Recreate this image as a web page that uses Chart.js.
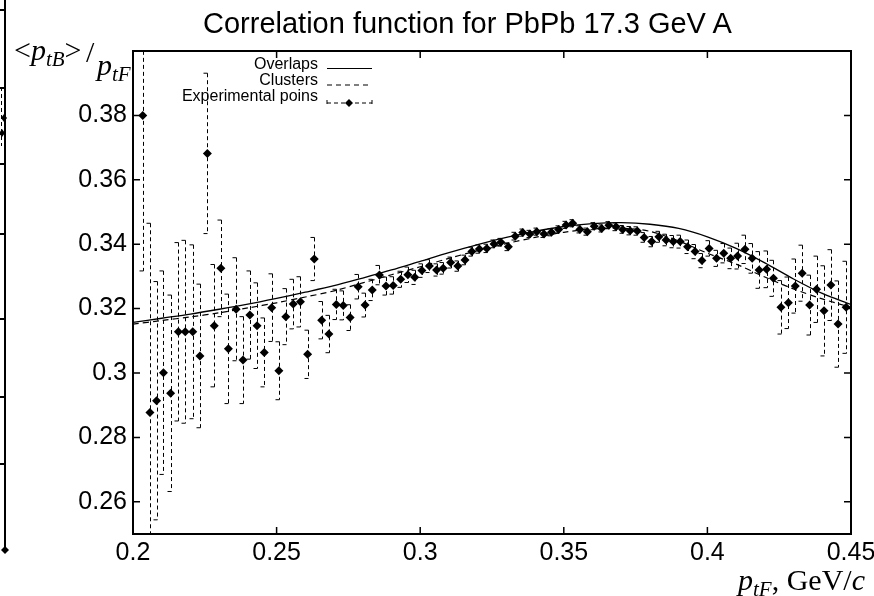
<!DOCTYPE html>
<html>
<head>
<meta charset="utf-8">
<script src="https://cdn.jsdelivr.net/npm/chart.js@4.4.1/dist/chart.umd.min.js"></script>
<style>
  html, body { margin: 0; padding: 0; background: #fff; }
  #wrap { position: relative; width: 874px; height: 596px; overflow: hidden; background: #fff; }
  #chart { position: absolute; left: 0; top: 0; }
  .txt { position: absolute; white-space: nowrap; color: #000; }
  .sans { font-family: 'Liberation Sans', Arial, sans-serif; }
  .serif { font-family: 'Liberation Serif', 'Times New Roman', serif; }
  .leg { font-size: 16px; line-height: 16px; text-align: right; right: 556px; }
  .sb { font-size: 70%; position: relative; top: 0.3em; }
  /* piece of the neighbouring figure cropped at the left edge */
  .frag { position: absolute; background: #000; }
</style>
</head>
<body>
<div id="wrap">
  <canvas id="chart" width="874" height="596"></canvas>

  <div class="txt sans" style="left:203px; top:9px; font-size:29px; line-height:29px;">Correlation function for PbPb 17.3 GeV A</div>

  <!-- y axis label -->
  <div class="txt serif" style="left:14px; top:35px; font-size:30px; line-height:30px;">&lt;<i>p</i><i class="sb">tB</i>&gt;</div>
  <div class="txt serif" style="left:86px; top:37px; font-size:30px; line-height:30px;">/</div>
  <div class="txt serif" style="left:97px; top:50px; font-size:30px; line-height:30px;"><i>p</i><i class="sb">tF</i></div>

  <!-- x axis label -->
  <div class="txt serif" style="left:738px; top:565px; font-size:30px; line-height:30px;"><i>p</i><i class="sb">tF</i>, GeV/<i>c</i></div>

  <!-- legend -->
  <div class="txt sans leg" style="top:56px;">Overlaps</div>
  <div class="txt sans leg" style="top:72px;">Clusters</div>
  <div class="txt sans leg" style="top:88px;">Experimental poins</div>
  <svg class="txt" style="left:320px; top:55px;" width="60" height="56">
    <line x1="7" y1="13.5" x2="52" y2="13.5" stroke="#000" stroke-width="1.2"/>
    <line x1="7" y1="30" x2="52" y2="30" stroke="#000" stroke-width="1.2" stroke-dasharray="5,4"/>
    <line x1="7" y1="48" x2="52" y2="48" stroke="#000" stroke-width="1" stroke-dasharray="4,3"/>
    <line x1="7" y1="45" x2="7" y2="49" stroke="#000" stroke-width="1"/>
    <line x1="52" y1="45" x2="52" y2="49" stroke="#000" stroke-width="1"/>
    <polygon points="29,44 33,48 29,52 25,48" fill="#000"/>
  </svg>

  <!-- cropped neighbour -->
  <div class="frag" style="left:4px; top:0; width:2px; height:551px;"></div>
  <div class="frag" style="left:0; top:9px; width:5px; height:1.5px;"></div>
  <div class="frag" style="left:0; top:87px; width:5px; height:1.5px;"></div>
  <div class="frag" style="left:0; top:163px; width:5px; height:1.5px;"></div>
  <div class="frag" style="left:0; top:233px; width:5px; height:1.5px;"></div>
  <div class="frag" style="left:0; top:318px; width:5px; height:1.5px;"></div>
  <div class="frag" style="left:0; top:396px; width:5px; height:1.5px;"></div>
  <div class="frag" style="left:0; top:463px; width:5px; height:1.5px;"></div>
  <svg class="txt" style="left:0; top:80px;" width="12" height="480">
    <line x1="1.5" y1="7" x2="1.5" y2="66" stroke="#000" stroke-dasharray="4,3"/>
    <polygon points="4,34 7,38 4,42 1,38" fill="#000"/>
    <polygon points="2,49 5,53 2,57 -1,53" fill="#000"/>
    <polygon points="5,466 9,470 5,474 1,470" fill="#000"/>
  </svg>
</div>

<script>
// tick positions
const xTicks = [0.2, 0.25, 0.3, 0.35, 0.4, 0.45];
const yTicks = [0.26, 0.28, 0.3, 0.32, 0.34, 0.36, 0.38];

// model curves, read every 0.01
const curveX = [0.20, 0.21, 0.22, 0.23, 0.24, 0.25, 0.26, 0.27, 0.28, 0.29, 0.30, 0.31, 0.32,
                0.33, 0.34, 0.35, 0.36, 0.37, 0.38, 0.39, 0.40, 0.41, 0.42, 0.43, 0.44, 0.45];
const overlapsY = [0.3157, 0.3170, 0.3183, 0.3198, 0.3214, 0.3232, 0.3251, 0.3271, 0.3295, 0.3320, 0.3347, 0.3374, 0.3399,
                   0.3421, 0.3440, 0.3455, 0.3464, 0.3467, 0.3462, 0.3449, 0.3423, 0.3387, 0.3342, 0.3292, 0.3247, 0.3213];
const clustersY = [0.3152, 0.3163, 0.3174, 0.3187, 0.3202, 0.3218, 0.3236, 0.3255, 0.3280, 0.3305, 0.3330, 0.3356, 0.3380,
                   0.3402, 0.3421, 0.3437, 0.3447, 0.3450, 0.3440, 0.3410, 0.3372, 0.3338, 0.3298, 0.3261, 0.3230, 0.3204];

// experimental points with their errors
const expX = [
  0.2034, 0.2059, 0.2082, 0.2106, 0.2131, 0.2158, 0.2182, 0.2208, 0.2233, 0.2259,
  0.2283, 0.2306, 0.2332, 0.2359, 0.2383, 0.2407, 0.2432, 0.2457, 0.2483, 0.2508,
  0.2532, 0.2558, 0.2583, 0.2608, 0.2631, 0.2657, 0.2682, 0.2708, 0.2732, 0.2756,
  0.2784, 0.2808, 0.2833, 0.2858, 0.2881, 0.2906, 0.2932, 0.2957, 0.2981, 0.3006,
  0.3032, 0.3057, 0.3080, 0.3106, 0.3131, 0.3156, 0.3180, 0.3206, 0.3232, 0.3257,
  0.3281, 0.3307, 0.3331, 0.3357, 0.3382, 0.3406, 0.3431, 0.3457, 0.3482, 0.3508,
  0.3531, 0.3556, 0.3582, 0.3606, 0.3632, 0.3657, 0.3682, 0.3705, 0.3731, 0.3756,
  0.3780, 0.3806, 0.3831, 0.3856, 0.3881, 0.3905, 0.3931, 0.3957, 0.3981, 0.4006,
  0.4032, 0.4057, 0.4081, 0.4105, 0.4131, 0.4156, 0.4180, 0.4206, 0.4230, 0.4256,
  0.4282, 0.4306, 0.4330, 0.4356, 0.4380, 0.4406, 0.4430, 0.4455, 0.4483
];
const expY = [
  0.3800, 0.2877, 0.2914, 0.3001, 0.2937, 0.3128, 0.3128, 0.3128, 0.3053, 0.3682,
  0.3147, 0.3325, 0.3075, 0.3198, 0.3040, 0.3180, 0.3147, 0.3064, 0.3203, 0.3007,
  0.3175, 0.3214, 0.3221, 0.3058, 0.3354, 0.3164, 0.3121, 0.3213, 0.3210, 0.3172,
  0.3268, 0.3211, 0.3258, 0.3304, 0.3270, 0.3272, 0.3291, 0.3305, 0.3297, 0.3318,
  0.3332, 0.3320, 0.3325, 0.3343, 0.3332, 0.3351, 0.3377, 0.3385, 0.3387, 0.3401,
  0.3406, 0.3392, 0.3425, 0.3436, 0.3432, 0.3439, 0.3432, 0.3437, 0.3446, 0.3460,
  0.3465, 0.3446, 0.3439, 0.3456, 0.3449, 0.3459, 0.3454, 0.3446, 0.3442, 0.3441,
  0.3421, 0.3408, 0.3423, 0.3413, 0.3408, 0.3408, 0.3392, 0.3377, 0.3349, 0.3387,
  0.3356, 0.3372, 0.3356, 0.3363, 0.3384, 0.3356, 0.3320, 0.3322, 0.3294, 0.3204,
  0.3218, 0.3270, 0.3310, 0.3211, 0.3260, 0.3193, 0.3273, 0.3152, 0.3204
];
const expErr = [
  0.0483, 0.0588, 0.0370, 0.0316, 0.0305, 0.0277, 0.0284, 0.0270, 0.0223, 0.0249,
  0.0190, 0.0150, 0.0170, 0.0160, 0.0135, 0.0137, 0.0133, 0.0107, 0.0105, 0.0090,
  0.0087, 0.0077, 0.0078, 0.0075, 0.0067, 0.0058, 0.0058, 0.0047, 0.0045, 0.0040,
  0.0038, 0.0037, 0.0033, 0.0030, 0.0028, 0.0027, 0.0025, 0.0024, 0.0022, 0.0021,
  0.0020, 0.0019, 0.0018, 0.0017, 0.0016, 0.0015, 0.0014, 0.0013, 0.0013, 0.0012,
  0.0012, 0.0012, 0.0012, 0.0011, 0.0011, 0.0011, 0.0011, 0.0011, 0.0011, 0.0011,
  0.0011, 0.0011, 0.0011, 0.0011, 0.0011, 0.0011, 0.0012, 0.0012, 0.0013, 0.0013,
  0.0015, 0.0016, 0.0017, 0.0018, 0.0019, 0.0020, 0.0021, 0.0022, 0.0022, 0.0024,
  0.0025, 0.0030, 0.0032, 0.0040, 0.0044, 0.0046, 0.0057, 0.0057, 0.0056, 0.0083,
  0.0080, 0.0084, 0.0087, 0.0093, 0.0103, 0.0140, 0.0110, 0.0134, 0.0143
];

const TICK_FONT = { family: "'Liberation Sans', Arial, sans-serif", size: 25 };

// error bars under the points, frame and inward ticks on top (gnuplot look)
const gnuplotLook = {
  id: 'gnuplotLook',
  beforeDatasetsDraw(chart) {
    const { ctx, chartArea: a, scales: { x, y } } = chart;
    ctx.save();
    ctx.beginPath();
    ctx.rect(a.left, a.top, a.width, a.height);
    ctx.clip();
    ctx.strokeStyle = '#000';
    ctx.lineWidth = 1;
    expX.forEach((xv, i) => {
      const px = Math.round(x.getPixelForValue(xv)) + 0.5;
      const top = y.getPixelForValue(expY[i] + expErr[i]);
      const bot = y.getPixelForValue(expY[i] - expErr[i]);
      ctx.setLineDash([4, 3]);
      ctx.beginPath();
      ctx.moveTo(px, top);
      ctx.lineTo(px, bot);
      ctx.stroke();
      ctx.setLineDash([]);
      ctx.beginPath();
      ctx.moveTo(px - 4, top); ctx.lineTo(px, top);
      ctx.moveTo(px - 4, bot); ctx.lineTo(px, bot);
      ctx.stroke();
    });
    ctx.restore();
  },
  afterDraw(chart) {
    const { ctx, chartArea: a, scales: { x, y } } = chart;
    ctx.save();
    ctx.strokeStyle = '#000';
    ctx.lineWidth = 1.5;
    ctx.beginPath();
    xTicks.forEach(v => {
      const px = x.getPixelForValue(v);
      ctx.moveTo(px, a.bottom); ctx.lineTo(px, a.bottom - 7);
      ctx.moveTo(px, a.top); ctx.lineTo(px, a.top + 7);
    });
    yTicks.forEach(v => {
      const py = y.getPixelForValue(v);
      ctx.moveTo(a.left, py); ctx.lineTo(a.left + 7, py);
      ctx.moveTo(a.right, py); ctx.lineTo(a.right - 7, py);
    });
    ctx.stroke();
    ctx.lineWidth = 2;
    ctx.strokeRect(a.left, a.top, a.width, a.height);
    ctx.restore();
  }
};

const toXY = (xs, ys) => xs.map((v, i) => ({ x: v, y: ys[i] }));

new Chart(document.getElementById('chart'), {
  type: 'scatter',
  data: {
    datasets: [
      {
        label: 'Overlaps',
        data: toXY(curveX, overlapsY),
        showLine: true,
        borderColor: '#000',
        borderWidth: 1.3,
        pointRadius: 0,
        tension: 0.3,
      },
      {
        label: 'Clusters',
        data: toXY(curveX, clustersY),
        showLine: true,
        borderColor: '#000',
        borderWidth: 1.2,
        borderDash: [6, 4],
        pointRadius: 0,
        tension: 0.3,
      },
      {
        label: 'Experimental poins',
        data: toXY(expX, expY),
        pointStyle: 'rectRot',
        pointRadius: 4.5,
        backgroundColor: '#000',
        borderColor: '#000',
        borderWidth: 0,
      },
    ],
  },
  options: {
    responsive: false,
    animation: false,
    layout: { padding: { left: 0, top: 51, right: 23, bottom: 0 } },
    plugins: {
      legend: { display: false },
      title: { display: false },
      tooltip: { enabled: false },
    },
    scales: {
      x: {
        type: 'linear',
        min: 0.2,
        max: 0.45,
        grid: { display: false, drawTicks: false },
        border: { display: false },
        afterBuildTicks: s => { s.ticks = xTicks.map(v => ({ value: v })); },
        afterFit: s => { s.height = 62; s.paddingLeft = 0; s.paddingRight = 0; },
        ticks: {
          color: '#000',
          font: TICK_FONT,
          padding: 4,
          maxRotation: 0,
          callback: v => String(+v.toFixed(2)),
        },
      },
      y: {
        type: 'linear',
        min: 0.25,
        max: 0.40,
        grid: { display: false, drawTicks: false },
        border: { display: false },
        afterBuildTicks: s => { s.ticks = yTicks.map(v => ({ value: v })); },
        afterFit: s => { s.width = 133; s.paddingTop = 0; s.paddingBottom = 0; },
        ticks: {
          color: '#000',
          font: TICK_FONT,
          padding: 6,
          callback: v => String(+v.toFixed(2)),
        },
      },
    },
  },
  plugins: [gnuplotLook],
});
</script>
</body>
</html>
